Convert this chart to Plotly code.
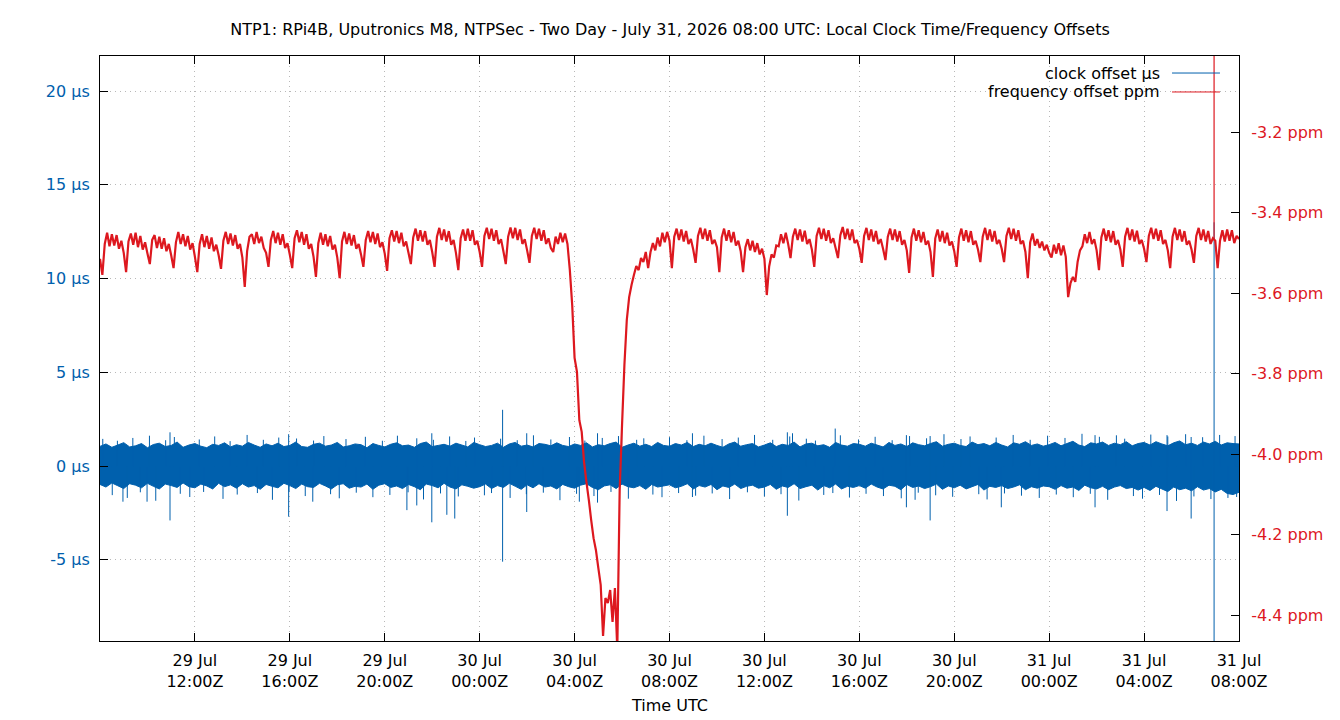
import pandas as pd
import plotly.graph_objects as go

# ---------------- data ----------------
TITLE = "NTP1: RPi4B, Uputronics M8, NTPSec - Two Day - July 31, 2026 08:00 UTC: Local Clock Time/Frequency Offsets"
START = "2026-07-29 08:00"
END = "2026-07-31 08:00"

# clock offset (µs): per-15-minute max / min envelope of the dense band
clock_hi = [
    1.05, 1.18, 1.00, 1.12, 1.25, 1.02, 1.08, 1.20, 0.98, 1.15, 1.22, 1.04, 1.10, 1.28, 1.00, 1.12,
    1.20, 1.06, 0.98, 1.16, 1.10, 1.24, 1.02, 1.14, 1.06, 1.26, 1.12, 1.00, 1.18, 1.08, 1.22, 1.04,
    1.10, 1.28, 1.04, 1.00, 1.16, 1.22, 1.06, 1.12, 1.26, 1.02, 1.08, 1.18, 1.14, 0.98, 1.20, 1.10,
    1.02, 1.16, 1.24, 1.08, 1.12, 1.00, 1.20, 1.28, 1.04, 1.10, 1.16, 1.06, 1.22, 1.12, 1.02, 1.26,
    1.14, 1.04, 1.10, 1.22, 1.00, 1.18, 1.26, 1.06, 1.12, 1.02, 1.20, 1.16, 1.08, 1.24, 1.10, 1.04,
    1.18, 1.10, 1.24, 1.02, 1.14, 1.08, 1.20, 1.28, 1.00, 1.12, 1.22, 1.06, 1.16, 1.04, 1.26, 1.10,
    1.06, 1.20, 1.12, 1.26, 1.04, 1.16, 1.08, 1.22, 1.10, 1.00, 1.18, 1.28, 1.06, 1.14, 1.20, 1.02,
    1.12, 1.24, 1.04, 1.16, 1.10, 1.28, 1.02, 1.18, 1.22, 1.08, 1.14, 1.00, 1.26, 1.12, 1.06, 1.20,
    1.16, 1.06, 1.22, 1.12, 1.02, 1.26, 1.10, 1.18, 1.04, 1.24, 1.14, 1.08, 1.20, 1.30, 1.06, 1.16,
    1.22, 1.10, 1.04, 1.28, 1.14, 1.20, 1.08, 1.26, 1.12, 1.02, 1.24, 1.16, 1.30, 1.10, 1.18, 1.06,
    1.14, 1.26, 1.08, 1.20, 1.32, 1.12, 1.04, 1.24, 1.18, 1.28, 1.10, 1.22, 1.14, 1.30, 1.08, 1.20,
    1.26, 1.12, 1.30, 1.18, 1.08, 1.24, 1.34, 1.14, 1.22, 1.10, 1.28, 1.18, 1.32, 1.12, 1.24, 1.20,
    1.18,
]
clock_lo = [
    -0.98, -1.12, -0.90, -1.05, -1.20, -0.94, -1.02, -1.16, -0.92, -1.08, -1.22, -0.96, -1.04, -1.14, -0.90, -1.10,
    -1.16, -0.96, -1.06, -1.22, -0.92, -1.10, -1.00, -1.18, -0.94, -1.12, -1.04, -1.24, -0.98, -1.08, -1.16, -0.92,
    -1.04, -1.20, -0.96, -1.10, -1.14, -0.92, -1.06, -1.22, -1.00, -0.94, -1.18, -1.08, -1.12, -0.96, -1.24, -1.02,
    -0.94, -1.14, -1.06, -1.20, -0.98, -1.10, -1.26, -0.96, -1.04, -1.16, -0.92, -1.12, -1.22, -1.00, -1.08, -1.18,
    -1.10, -0.96, -1.20, -1.04, -1.14, -0.92, -1.08, -1.24, -1.00, -1.16, -0.94, -1.12, -1.06, -1.22, -0.98, -1.10,
    -1.18, -1.02, -0.94, -1.14, -1.26, -1.06, -1.00, -1.20, -0.96, -1.10, -1.16, -1.04, -1.24, -0.98, -1.12, -1.06,
    -1.00, -1.16, -1.08, -0.94, -1.22, -1.04, -1.12, -0.98, -1.26, -1.06, -1.14, -0.96, -1.20, -1.08, -1.02, -1.18,
    -1.12, -0.98, -1.24, -1.06, -1.14, -0.94, -1.20, -1.10, -1.02, -1.28, -1.04, -1.16, -0.96, -1.22, -1.08, -1.14,
    -1.04, -1.18, -0.96, -1.12, -1.22, -1.02, -1.08, -1.26, -0.98, -1.14, -1.06, -1.20, -1.10, -0.96, -1.24, -1.06,
    -1.16, -1.02, -1.22, -1.10, -0.98, -1.28, -1.08, -1.14, -1.04, -1.20, -1.12, -1.00, -1.26, -1.10, -1.18, -1.06,
    -1.10, -1.24, -1.04, -1.18, -1.12, -1.30, -1.02, -1.16, -1.22, -1.08, -1.26, -1.12, -1.04, -1.20, -1.14, -1.28,
    -1.14, -1.30, -1.08, -1.22, -1.36, -1.12, -1.26, -1.18, -1.32, -1.10, -1.28, -1.20, -1.38, -1.24, -1.46, -1.52,
    -1.40,
]

# thin fringe excursions of the clock offset: minutes after START, value (µs)
fringe_min = [
    7, 31, 44, 69, 83, 102, 125, 141, 166, 188,
    203, 227, 251, 262, 290, 311, 329, 347, 372, 398,
    413, 436, 452, 478, 497, 519, 540, 566, 583, 605,
    622, 648, 671, 690, 714, 733, 752, 779, 801, 818,
    843, 861, 884, 906, 925, 947, 972, 990, 1013, 1037,
    1055, 1078, 1096, 1121, 1140, 1163, 1187, 1205, 1226, 1249,
    1270, 1292, 1311, 1336, 1357, 1375, 1398, 1421, 1440, 1463,
    1484, 1506, 1527, 1548, 1573, 1592, 1614, 1637, 1655, 1680,
    1701, 1722, 1744, 1767, 1786, 1809, 1830, 1853, 1872, 1895,
    1918, 1937, 1960, 1981, 2003, 2026, 2047, 2069, 2090, 2113,
    2134, 2156, 2177, 2200, 2222, 2243, 2266, 2287, 2309, 2330,
    2352, 2375, 2396, 2418, 2440, 2461, 2483, 2504, 2527, 2548,
    2570, 2591, 2613, 2636, 2657, 2679, 2700, 2722, 2745, 2766,
    2788, 2809, 2831, 2852, 2870,
]
fringe_val = [
    1.45, -1.55, 1.35, -1.70, 1.50, -1.40, 1.62, -1.85, 1.38, 1.55,
    -1.48, -1.65, 1.42, -1.38, 1.58, -1.75, 1.33, -1.52, 1.66, -1.44,
    1.40, -1.80, 1.52, -1.36, 1.47, -1.60, 1.36, 1.60, -1.50, -1.72,
    1.44, -1.42, 1.56, -1.66, 1.35, -1.54, 1.62, -1.40, 1.48, -1.78,
    1.40, -1.46, 1.58, -1.62, 1.34, 1.52, -1.56, -1.44, 1.46, -1.70,
    1.38, -1.50, 1.64, -1.42, 1.42, -1.82, 1.55, -1.48, 1.36, -1.60,
    1.50, -1.38, 1.60, -1.74, 1.40, 1.48, -1.52, -1.66, 1.54, -1.44,
    1.38, -1.58, 1.62, -1.46, 1.44, -1.76, 1.52, -1.40, 1.66, -1.62,
    1.40, -1.50, 1.58, -1.84, 1.46, 1.36, -1.54, -1.44, 1.64, -1.68,
    1.42, -1.48, 1.56, -1.60, 1.38, -1.72, 1.60, -1.42, 1.48, -1.56,
    1.70, -1.64, 1.44, 1.58, -1.50, -1.78, 1.52, -1.46, 1.66, -1.58,
    1.40, -1.70, 1.62, -1.52, 1.50, -1.66, 1.72, -1.48, 1.56, -1.80,
    1.64, 1.46, -1.60, -1.74, 1.68, -1.54, 1.58, -1.86, 1.70, -1.62,
    1.54, -1.76, 1.66, -1.70, 1.60,
]

# isolated larger clock offset excursions (µs)
spike_times = [
    "2026-07-29 08:58", "2026-07-29 09:59", "2026-07-29 10:57", "2026-07-29 10:57",
    "2026-07-29 15:57", "2026-07-29 15:57", "2026-07-29 16:58", "2026-07-29 20:56",
    "2026-07-29 21:21", "2026-07-29 21:59", "2026-07-29 21:59", "2026-07-29 22:37",
    "2026-07-29 22:57", "2026-07-30 00:58", "2026-07-30 00:58", "2026-07-30 01:59",
    "2026-07-30 01:59", "2026-07-30 04:12", "2026-07-30 04:58", "2026-07-30 04:58",
    "2026-07-30 05:59", "2026-07-30 08:58", "2026-07-30 08:58", "2026-07-30 12:58",
    "2026-07-30 12:58", "2026-07-30 13:11", "2026-07-30 14:59", "2026-07-30 17:59",
    "2026-07-30 17:59", "2026-07-30 18:21", "2026-07-30 18:59", "2026-07-30 18:59",
    "2026-07-30 21:59", "2026-07-31 01:56", "2026-07-31 01:56", "2026-07-31 04:58",
    "2026-07-31 04:58", "2026-07-31 05:59", "2026-07-31 05:59", "2026-07-31 06:57",
    "2026-07-31 06:57", "2026-07-31 07:54",
]
spike_values = [
    -1.9, -1.9, 1.8, -2.9,
    1.7, -2.7, -1.9, -2.35,
    -2.1, 1.75, -3.0, -2.6,
    -2.8, 3.0, -5.1, 1.75,
    -2.45, -1.9, 1.75, -1.95,
    2.1, 1.75, -1.65, 1.8,
    -2.65, 1.75, 2.0, 1.65,
    -2.2, -1.8, 1.6, -2.9,
    -2.2, 1.65, -2.2, 1.65,
    -2.4, 1.55, -2.8, 13.0,
    -12.0, -1.65,
]

# frequency offset (ppm), one sample every 6 minutes (10 per hour)
freq_ppm = [
    -3.515, -3.555, -3.478, -3.450, -3.484, -3.454, -3.482, -3.456, -3.490, -3.470,
    -3.500, -3.548, -3.472, -3.452, -3.480, -3.450, -3.486, -3.458, -3.492, -3.474,
    -3.502, -3.528, -3.468, -3.456, -3.488, -3.460, -3.490, -3.464, -3.496, -3.478,
    -3.506, -3.538, -3.474, -3.448, -3.478, -3.454, -3.484, -3.458, -3.492, -3.476,
    -3.510, -3.548, -3.478, -3.454, -3.486, -3.458, -3.490, -3.462, -3.496, -3.480,
    -3.506, -3.540, -3.470, -3.448, -3.478, -3.452, -3.482, -3.456, -3.490, -3.478,
    -3.512, -3.585, -3.496, -3.460, -3.454, -3.478, -3.448, -3.476, -3.460, -3.488,
    -3.500, -3.535, -3.468, -3.446, -3.476, -3.450, -3.480, -3.454, -3.488, -3.476,
    -3.505, -3.538, -3.464, -3.444, -3.474, -3.448, -3.480, -3.454, -3.490, -3.478,
    -3.510, -3.560, -3.476, -3.450, -3.480, -3.454, -3.484, -3.458, -3.492, -3.480,
    -3.512, -3.563, -3.472, -3.448, -3.478, -3.452, -3.482, -3.456, -3.490, -3.478,
    -3.504, -3.535, -3.468, -3.446, -3.474, -3.448, -3.478, -3.452, -3.486, -3.474,
    -3.502, -3.545, -3.464, -3.444, -3.472, -3.446, -3.476, -3.450, -3.484, -3.472,
    -3.500, -3.528, -3.462, -3.440, -3.470, -3.444, -3.472, -3.446, -3.480, -3.468,
    -3.498, -3.535, -3.460, -3.438, -3.468, -3.442, -3.472, -3.446, -3.480, -3.468,
    -3.500, -3.543, -3.464, -3.442, -3.470, -3.440, -3.470, -3.444, -3.480, -3.470,
    -3.498, -3.535, -3.458, -3.438, -3.466, -3.440, -3.470, -3.444, -3.478, -3.466,
    -3.496, -3.528, -3.460, -3.437, -3.464, -3.438, -3.468, -3.442, -3.478, -3.466,
    -3.494, -3.525, -3.458, -3.438, -3.466, -3.440, -3.470, -3.444, -3.478, -3.464,
    -3.488, -3.498, -3.460, -3.478, -3.450, -3.474, -3.452, -3.478, -3.543, -3.630,
    -3.761, -3.796, -3.916, -3.945, -4.020, -4.070, -4.114, -4.164, -4.209, -4.239,
    -4.283, -4.325, -4.452, -4.358, -4.370, -4.338, -4.417, -4.333, -4.487, -4.090,
    -3.928, -3.779, -3.667, -3.610, -3.580, -3.555, -3.533, -3.543, -3.513, -3.523,
    -3.498, -3.538, -3.498, -3.476, -3.494, -3.462, -3.484, -3.450, -3.474, -3.448,
    -3.470, -3.538, -3.460, -3.440, -3.468, -3.442, -3.472, -3.446, -3.478, -3.466,
    -3.492, -3.525, -3.458, -3.438, -3.466, -3.440, -3.470, -3.444, -3.478, -3.468,
    -3.486, -3.548, -3.462, -3.440, -3.470, -3.444, -3.474, -3.448, -3.482, -3.470,
    -3.496, -3.548, -3.486, -3.466, -3.494, -3.470, -3.498, -3.476, -3.504, -3.490,
    -3.515, -3.605, -3.534, -3.504, -3.512, -3.482, -3.484, -3.454, -3.476, -3.450,
    -3.478, -3.513, -3.460, -3.440, -3.468, -3.442, -3.472, -3.445, -3.478, -3.466,
    -3.492, -3.535, -3.458, -3.438, -3.466, -3.440, -3.470, -3.444, -3.476, -3.464,
    -3.488, -3.513, -3.456, -3.436, -3.466, -3.440, -3.468, -3.442, -3.476, -3.468,
    -3.490, -3.525, -3.458, -3.438, -3.468, -3.442, -3.472, -3.446, -3.478, -3.466,
    -3.490, -3.518, -3.460, -3.440, -3.468, -3.442, -3.472, -3.446, -3.480, -3.468,
    -3.494, -3.550, -3.462, -3.440, -3.470, -3.444, -3.474, -3.448, -3.480, -3.470,
    -3.498, -3.560, -3.464, -3.442, -3.472, -3.446, -3.476, -3.450, -3.482, -3.472,
    -3.496, -3.535, -3.462, -3.440, -3.470, -3.444, -3.474, -3.446, -3.480, -3.470,
    -3.492, -3.523, -3.460, -3.438, -3.468, -3.442, -3.472, -3.446, -3.478, -3.468,
    -3.490, -3.523, -3.458, -3.438, -3.466, -3.440, -3.470, -3.444, -3.478, -3.470,
    -3.498, -3.563, -3.474, -3.452, -3.482, -3.466, -3.488, -3.472, -3.494, -3.480,
    -3.500, -3.512, -3.480, -3.502, -3.476, -3.506, -3.482, -3.510, -3.610, -3.575,
    -3.560, -3.572, -3.522, -3.494, -3.484, -3.454, -3.476, -3.448, -3.478, -3.466,
    -3.494, -3.543, -3.462, -3.440, -3.470, -3.444, -3.474, -3.446, -3.480, -3.468,
    -3.492, -3.535, -3.460, -3.438, -3.468, -3.442, -3.472, -3.445, -3.478, -3.468,
    -3.490, -3.523, -3.458, -3.438, -3.466, -3.440, -3.470, -3.444, -3.478, -3.468,
    -3.494, -3.538, -3.460, -3.438, -3.468, -3.442, -3.472, -3.446, -3.480, -3.470,
    -3.492, -3.525, -3.458, -3.438, -3.468, -3.442, -3.472, -3.446, -3.478, -3.464,
    -3.470, -3.538, -3.470, -3.444, -3.472, -3.442, -3.470, -3.444, -3.476, -3.458,
    -3.466,
]
# single frequency excursion (ppm): time, level before, peak
freq_spike_time = "2026-07-31 06:57"
freq_spike_base = -3.466
freq_spike_peak = -2.80

x_tick_vals = [
    "2026-07-29 12:00", "2026-07-29 16:00", "2026-07-29 20:00", "2026-07-30 00:00",
    "2026-07-30 04:00", "2026-07-30 08:00", "2026-07-30 12:00", "2026-07-30 16:00",
    "2026-07-30 20:00", "2026-07-31 00:00", "2026-07-31 04:00", "2026-07-31 08:00",
]
x_tick_text = [
    "29 Jul<br>12:00Z", "29 Jul<br>16:00Z", "29 Jul<br>20:00Z", "30 Jul<br>00:00Z",
    "30 Jul<br>04:00Z", "30 Jul<br>08:00Z", "30 Jul<br>12:00Z", "30 Jul<br>16:00Z",
    "30 Jul<br>20:00Z", "31 Jul<br>00:00Z", "31 Jul<br>04:00Z", "31 Jul<br>08:00Z",
]
y_tick_vals = [-5, 0, 5, 10, 15, 20]
y_tick_text = ["-5 µs", "0 µs", "5 µs", "10 µs", "15 µs", "20 µs"]
y2_tick_vals = [-4.4, -4.2, -4.0, -3.8, -3.6, -3.4, -3.2]
y2_tick_text = ["-4.4 ppm", "-4.2 ppm", "-4.0 ppm", "-3.8 ppm", "-3.6 ppm", "-3.4 ppm", "-3.2 ppm"]

# ---------------- styling ----------------
BLUE = "#0060ad"
RED = "#dd181f"
FONT = "DejaVu Sans"
FS = 16
GRID = "#b8b8b8"

t_clock = pd.date_range(START, periods=len(clock_hi), freq="15min")
t_freq = pd.date_range(START, periods=len(freq_ppm), freq="6min")
t0 = pd.Timestamp(START)

fx, fy = [], []
for m, v in zip(fringe_min, fringe_val):
    t = t0 + pd.Timedelta(minutes=m)
    fx += [t, t, None]
    fy += [0, v, None]

sx, sy = [], []
for t, v in zip(spike_times, spike_values):
    sx += [t, t, None]
    sy += [0, v, None]

fig = go.Figure()
fig.add_trace(go.Scatter(x=t_clock, y=clock_lo, mode="lines",
                         line=dict(color=BLUE, width=1, simplify=False),
                         showlegend=False, hoverinfo="skip"))
fig.add_trace(go.Scatter(x=t_clock, y=clock_hi, mode="lines", fill="tonexty",
                         fillcolor=BLUE, line=dict(color=BLUE, width=1, simplify=False),
                         showlegend=False, name="clock offset µs"))
fig.add_trace(go.Scatter(x=fx, y=fy, mode="lines", line=dict(color=BLUE, width=1),
                         showlegend=False, hoverinfo="skip"))
fig.add_trace(go.Scatter(x=sx, y=sy, mode="lines", line=dict(color=BLUE, width=1),
                         showlegend=False, hoverinfo="skip"))
fig.add_trace(go.Scatter(x=t_freq, y=freq_ppm, mode="lines", yaxis="y2",
                         line=dict(color=RED, width=2.2, simplify=False), showlegend=False,
                         name="frequency offset ppm"))
fig.add_trace(go.Scatter(x=[freq_spike_time, freq_spike_time],
                         y=[freq_spike_base, freq_spike_peak], mode="lines", yaxis="y2",
                         line=dict(color=RED, width=1.2), showlegend=False, hoverinfo="skip"))

axis_common = dict(ticks="inside", ticklen=8, tickcolor="black", tickwidth=1,
                   showline=True, linecolor="black", linewidth=1, zeroline=False)

fig.update_layout(
    width=1340, height=720,
    margin=dict(l=100, r=101, t=56, b=79),
    paper_bgcolor="white", plot_bgcolor="white",
    font=dict(family=FONT, size=FS, color="black"),
    title=dict(text=TITLE, x=0.5, xanchor="center", y=1 - 29 / 720, yanchor="middle",
               yref="container", font=dict(family=FONT, size=FS, color="black")),
    xaxis=dict(
        type="date", range=[START, END],
        tickmode="array", tickvals=x_tick_vals, ticktext=x_tick_text,
        mirror="ticks", showgrid=True, gridcolor=GRID, griddash="1px,4px", gridwidth=1,
        tickfont=dict(family=FONT, size=FS, color="black"), ticklabelstandoff=5,
        **axis_common,
    ),
    yaxis=dict(
        range=[-9.33, 21.87],
        tickmode="array", tickvals=y_tick_vals, ticktext=y_tick_text,
        showgrid=True, gridcolor=GRID, griddash="1px,4px", gridwidth=1,
        tickfont=dict(family=FONT, size=FS, color=BLUE), ticklabelstandoff=6,
        **axis_common,
    ),
    yaxis2=dict(
        range=[-4.4646, -3.011], overlaying="y", side="right",
        tickmode="array", tickvals=y2_tick_vals, ticktext=y2_tick_text,
        showgrid=False,
        tickfont=dict(family=FONT, size=FS, color=RED), ticklabelstandoff=8,
        **axis_common,
    ),
)

# x axis title
fig.add_annotation(text="Time UTC", xref="paper", yref="paper", x=0.5, y=-0.111,
                   xanchor="center", yanchor="middle", showarrow=False,
                   font=dict(family=FONT, size=FS, color="black"))

# key: gnuplot style, text right-aligned with the sample line to its right
key_items = [("clock offset µs", BLUE, 0.9709), ("frequency offset ppm", RED, 0.9385)]
for label, col, ky in key_items:
    fig.add_annotation(text=label, xref="paper", yref="paper", x=0.9324, y=ky,
                       xanchor="right", yanchor="middle", showarrow=False,
                       font=dict(family=FONT, size=FS, color="black"))
    fig.add_shape(type="line", xref="paper", yref="paper", x0=0.9412, x1=0.9833,
                  y0=ky, y1=ky, line=dict(color=col, width=1))

fig.write_html("out.html")
